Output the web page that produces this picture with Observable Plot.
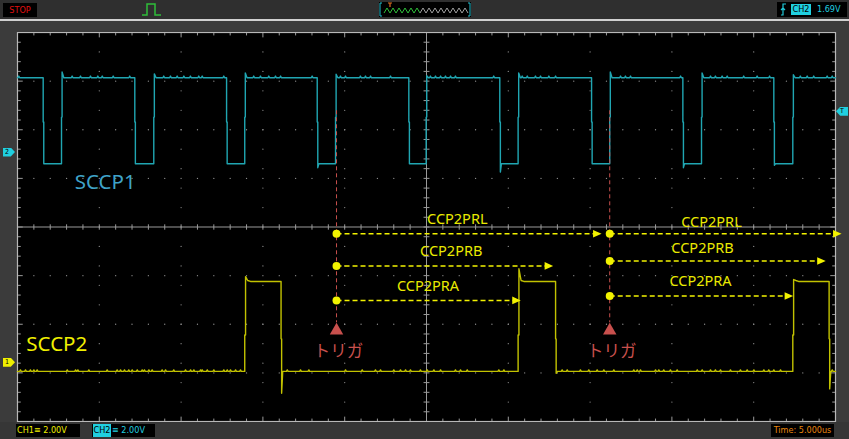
<!DOCTYPE html>
<html><head><meta charset="utf-8">
<script src="https://cdn.jsdelivr.net/npm/d3@7"></script>
<script src="https://cdn.jsdelivr.net/npm/@observablehq/plot@0.6"></script>
<style>
body{margin:0;background:#3a3a3a;}
#wrap{position:relative;width:849px;height:439px;overflow:hidden;background:#3b3b3b;font-family:"DejaVu Sans Condensed","DejaVu Sans",sans-serif;}
.ab{position:absolute;box-sizing:border-box;}
.lbl{font-size:9px;line-height:13px;white-space:nowrap;}
</style></head><body><div id="wrap"></div>
<script>
// ---------- data (time in µs across 10 divisions of 5 µs, level in divisions) ----------
const cyanFall = [1.57, 7.17, 12.78, 18.32, 23.92, 29.48, 35.09, 40.67, 46.23];
const cyanRise = [2.69, 8.33, 13.89, 19.44, 24.98, 30.60, 36.20, 41.81, 47.39];
const cyanHigh = 3.07, cyanLow = 1.30, cyanFallJog = 2.16, cyanRiseJog = 2.26;
const cyanOvershoot = [0.12, 0.08, 0.10, 0.07, 0.04, 0.10, 0.12, 0.10, 0.06];
const cyanUndershoot = [0, 0, 0, 0.08, 0, 0.17, 0, 0.08, 0.03];
const cyanBumps = [0.08,3.34,3.85,4.46,4.91,5.18,5.85,6.86,8.94,9.35,9.76,10.17,10.57,11.08,11.29,12.61,14.44,14.85,15.36,15.77,16.08,18.01,19.74,20.05,20.96,21.27,21.58,22.80,25.24,25.55,25.86,26.16,26.47,26.77,29.11,30.85,31.16,31.66,31.97,32.48,32.89,36.86,37.16,37.47,40.53,41.95,42.36,42.66,43.07,43.38,44.39,45.21,45.97,47.55,47.85,48.27,48.67,49.49,49.80];

const yelRise = [13.89, 30.60, 47.39];
const yelFall = [16.11, 32.89, 49.61];
const yelHigh = -1.12, yelLow = -2.97, yelRiseJog = -2.22, yelFallJog = -2.30;
const yelOvershoot = [0.10, 0.26, 0.04];
const yelSpike = [0.45, 0.04, 0.36];
const yelBumps = [0.18,0.49,0.79,1.00,1.20,3.04,3.55,3.69,4.36,5.48,6.09,6.30,6.54,6.80,7.01,7.32,7.62,7.76,8.03,8.23,8.84,9.05,9.55,10.27,10.58,10.78,11.19,11.29,11.60,12.00,12.61,12.82,13.02,13.33,13.63,16.49,17.30,17.81,20.05,21.07,21.88,22.19,23.00,23.41,23.72,24.02,24.63,25.04,25.45,25.86,26.77,27.08,27.49,29.42,29.73,33.29,33.60,34.41,34.92,35.43,35.84,36.45,37.67,37.88,38.08,39.00,39.20,39.50,39.91,40.32,41.55,41.85,42.36,42.66,42.97,43.58,44.19,44.60,45.01,45.62,45.92,46.23,46.64,49.80];

const triggers = [19.50, 36.20];
const trigLineTop = 2.40, trigLineBottom = -1.96, trigMarkLevel = -2.13, trigTextLevel = -2.56;
const trigText = "トリガ";

const arrowNames = ["CCP2PRL", "CCP2PRB", "CCP2PRA", "CCP2PRL", "CCP2PRB", "CCP2PRA"];
const arrowStart = [19.50, 19.50, 19.50, 36.20, 36.20, 36.20];
const arrowEnd = [35.64, 32.68, 30.70, 50.31, 49.34, 47.35];
const arrowLevel = [-0.14, -0.80, -1.51, -0.14, -0.70, -1.42];
const labelT = [26.88, 26.51, 25.09, 42.42, 41.87, 41.75];
const labelLevel = [0.165, -0.51, -1.23, 0.10, -0.44, -1.11];

const channelNames = ["SCCP1", "SCCP2"];
const channelLabelT = [5.36, 2.40];
const channelLabelLevel = [0.92, -2.41];

const ch2Ground = 1.53, ch1Ground = -2.79, trigLevel = 2.37;

// ---------- build traces ----------
function pushBumps(pts, a, b, level, bumps, amp) {
  for (const t of bumps) if (t > a + 0.05 && t < b - 0.05)
    pts.push({t: t - 0.05, v: level}, {t, v: level + amp}, {t: t + 0.05, v: level});
}
const J = 0.035;
const cyan = [{t: 0, v: cyanHigh}];
let prev = 0;
cyanFall.forEach((f, i) => {
  pushBumps(cyan, prev, f, cyanHigh, cyanBumps, 0.035);
  const r = cyanRise[i];
  cyan.push({t: f, v: cyanHigh}, {t: f, v: cyanFallJog}, {t: f + J, v: cyanFallJog},
            {t: f + J, v: cyanLow - cyanUndershoot[i]}, {t: f + 0.1, v: cyanLow});
  cyan.push({t: r, v: cyanLow}, {t: r, v: cyanRiseJog}, {t: r + J, v: cyanRiseJog},
            {t: r + J, v: cyanHigh + cyanOvershoot[i]}, {t: r + 0.14, v: cyanHigh});
  prev = r + 0.14;
});
pushBumps(cyan, prev, 50, cyanHigh, cyanBumps, 0.035);
cyan.push({t: 50, v: cyanHigh});

const yel = [{t: 0, v: yelLow}];
prev = 0;
yelRise.forEach((r, i) => {
  pushBumps(yel, prev, r, yelLow, yelBumps, 0.03);
  const f = yelFall[i];
  yel.push({t: r, v: yelLow}, {t: r, v: yelRiseJog}, {t: r + 0.05, v: yelRiseJog},
           {t: r + 0.05, v: yelHigh + yelOvershoot[i]}, {t: r + 0.18, v: yelHigh + 0.02}, {t: r + 0.35, v: yelHigh});
  yel.push({t: f, v: yelHigh}, {t: f, v: yelFallJog}, {t: f + J, v: yelFallJog},
           {t: f + J, v: yelLow - yelSpike[i]}, {t: f + 0.1, v: yelLow});
  prev = f + 0.1;
});
pushBumps(yel, prev, 50, yelLow, yelBumps, 0.03);
yel.push({t: 50, v: yelLow});

// ---------- graticule ----------
const rowDots = [];
for (const v of [-3, -2, -1, 1, 2, 3]) for (const t of d3.range(1, 50, 1)) rowDots.push({t, v});
const colDots = [];
for (const t of [5, 10, 15, 20, 30, 35, 40, 45]) for (let k = -9; k <= 9; k++) colDots.push({t, v: k * 0.4});
const tTicks = d3.range(1, 50, 1);
const vTicks = d3.range(-19, 20, 1).map(k => k * 0.2);
const isMajT = t => t % 5 === 0;
const isMajV = v => Math.abs(v - Math.round(v)) < 1e-6;

const headRight = {draw(ctx) { ctx.moveTo(1, 0); ctx.lineTo(-7.5, -3.8); ctx.lineTo(-7.5, 3.8); ctx.closePath(); }};
const arrows = arrowNames.map((name, i) => ({name, a: arrowStart[i], b: arrowEnd[i], v: arrowLevel[i], lt: labelT[i], lv: labelLevel[i]}));

const G = "#9a9a9a";
const plot = Plot.plot({
  width: 849, height: 439,
  marginLeft: 17, marginRight: 14, marginTop: 32, marginBottom: 18,
  x: {domain: [0, 50], axis: null},
  y: {domain: [-4, 4], axis: null},
  style: {background: "transparent", overflow: "visible"},
  marks: [
    Plot.frame({fill: "black", stroke: "none"}),
    Plot.dot(rowDots, {x: "t", y: "v", r: 0.65, fill: "#8c8c8c"}),
    Plot.dot(colDots, {x: "t", y: "v", r: 0.65, fill: "#8c8c8c"}),
    Plot.ruleY([0], {stroke: G}),
    Plot.ruleX([25], {stroke: G}),
    Plot.link(tTicks, {x1: d => d, x2: d => d, y1: -0.055, y2: 0.055, stroke: G}),
    Plot.link(vTicks, {x1: 24.82, x2: 25.18, y1: d => d, y2: d => d, stroke: G}),
    Plot.link(tTicks, {x1: d => d, x2: d => d, y1: 4, y2: d => 4 - (isMajT(d) ? 0.1 : 0.06), stroke: G}),
    Plot.link(tTicks, {x1: d => d, x2: d => d, y1: -4, y2: d => -4 + (isMajT(d) ? 0.1 : 0.06), stroke: G}),
    Plot.link(vTicks, {x1: 0, x2: d => isMajV(d) ? 0.32 : 0.2, y1: d => d, y2: d => d, stroke: G}),
    Plot.link(vTicks, {x1: 50, x2: d => 50 - (isMajV(d) ? 0.32 : 0.2), y1: d => d, y2: d => d, stroke: G}),
    Plot.frame({stroke: "#b8b8b8", strokeWidth: 1.2}),
    Plot.line(cyan, {x: "t", y: "v", stroke: "#20a6b2", strokeWidth: 1.4}),
    Plot.line(yel, {x: "t", y: "v", stroke: "#c2c200", strokeWidth: 1.4}),
    Plot.link(triggers, {x1: d => d, x2: d => d, y1: trigLineTop, y2: trigLineBottom, stroke: "#c8504d", strokeDasharray: "4,3", strokeWidth: 1}),
    Plot.dot(triggers, {x: d => d, y: trigMarkLevel, symbol: "triangle", r: 5, fill: "#c8504d"}),
    Plot.text(triggers, {x: d => d + 0.12, y: trigTextLevel, text: () => trigText, fill: "#c8504d", fontSize: 16.5, fontFamily: "Noto Sans CJK JP"}),
    Plot.link(arrows, {x1: "a", x2: d => d.b - 0.4, y1: "v", y2: "v", stroke: "#f2f200", strokeWidth: 1.5, strokeDasharray: "5,3"}),
    Plot.dot(arrows, {x: "a", y: "v", r: 4, fill: "#f2f200"}),
    Plot.dot(arrows, {x: "b", y: "v", symbol: headRight, fill: "#f2f200"}),
    Plot.text(arrows, {x: "lt", y: "lv", text: "name", fill: "#eaea00", fontSize: 14.5, fontFamily: "Noto Sans"}),
    Plot.text(channelNames, {x: (d, i) => channelLabelT[i], y: (d, i) => channelLabelLevel[i], text: d => d,
      fill: (d, i) => i === 0 ? "#3fa3c8" : "#f0f000", fontSize: 20.5, fontFamily: "Noto Sans"})
  ]
});
plot.style.position = "absolute"; plot.style.left = "0"; plot.style.top = "0";
const wrap = document.getElementById("wrap");
wrap.appendChild(plot);

const sy = plot.scale("y");
const fy = sy.apply ? (v => sy.apply(v)) : d3.scaleLinear(sy.domain, sy.range);

// ---------- instrument chrome ----------
const zig = d3.range(0, 29).map(k => `${384 + k * 3 - 379},${k % 2 ? 6 : 11}`);
const zigG = zig.slice(0, 13).join(" "), zigR = zig.slice(12).join(" ");
const html = `
<div class="ab" style="left:0;top:0;width:849px;height:19px;background:#2f2f2f"></div>
<div class="ab" style="left:0;top:19px;width:849px;height:2px;background:#d0d0d0"></div>
<div class="ab" style="left:0;top:21px;width:849px;height:11px;background:#3b3b3b"></div>
<div class="ab lbl" style="left:3px;top:3px;width:34px;height:14px;background:#000;color:#e01010;text-align:center;line-height:14px">STOP</div>
<svg class="ab" style="left:140px;top:2px" width="24" height="15"><path d="M2 13 H7 V2 H15 V13 H21" fill="none" stroke="#2fbf3a" stroke-width="1.5"/></svg>
<svg class="ab" style="left:379px;top:2px" width="92" height="15">
 <rect width="92" height="15" fill="#000"/>
 <path d="M3 1 H1 V14 H3 M89 1 H91 V14 H89" fill="none" stroke="#20c0d0"/>
 <polyline points="${zigG}" fill="none" stroke="#2fbf3a" stroke-width="1"/>
 <polyline points="${zigR}" fill="none" stroke="#a0a0a0" stroke-width="1"/>
 <path d="M9 1 H13 M11 1 V5" stroke="#e07020" stroke-width="1.2"/>
</svg>
<div class="ab" style="left:777px;top:2px;width:70px;height:15px;background:#000"></div>
<svg class="ab" style="left:779px;top:3px" width="10" height="13"><path d="M2 12 H4 V1 H7 M4 5 L2 7 M4 5 L6 7" fill="none" stroke="#20c8d8" stroke-width="1.2"/></svg>
<div class="ab lbl" style="left:791px;top:4px;width:20px;height:11px;background:#20d0e0;color:#000;text-align:center;line-height:11px">CH2</div>
<div class="ab lbl" style="left:817px;top:3px;color:#20d0e0">1.69V</div>

<div class="ab lbl" style="left:3px;top:${fy(ch2Ground) - 4.5}px;width:12px;height:9px;background:#20d0e0;color:#000;font-size:7px;line-height:9px;padding-left:2px;clip-path:polygon(0 0,65% 0,100% 50%,65% 100%,0 100%)">2</div>
<div class="ab lbl" style="left:3px;top:${fy(ch1Ground) - 4.5}px;width:12px;height:9px;background:#f0f000;color:#000;font-size:7px;line-height:9px;padding-left:2px;clip-path:polygon(0 0,65% 0,100% 50%,65% 100%,0 100%)">1</div>
<div class="ab lbl" style="left:836px;top:${fy(trigLevel) - 4.5}px;width:12px;height:9px;background:#20d0e0;color:#000;font-size:7px;line-height:9px;padding-left:4px;clip-path:polygon(0 50%,35% 0,100% 0,100% 100%,35% 100%)">T</div>

<div class="ab" style="left:0;top:422px;width:849px;height:17px;background:#363636"></div>
<div class="ab lbl" style="left:16px;top:424px;width:64px;height:13px;background:#000;color:#f0f000;padding-left:1px">CH1≡ 2.00V</div>
<div class="ab" style="left:92px;top:424px;width:63px;height:13px;background:#000"></div>
<div class="ab lbl" style="left:93px;top:424px;width:18px;height:13px;background:#20d0e0;color:#000;text-align:center">CH2</div>
<div class="ab lbl" style="left:112px;top:424px;color:#20d0e0">≡ 2.00V</div>
<div class="ab lbl" style="left:771px;top:424px;width:63px;height:13px;background:#000;color:#e8870e;text-align:center">Time: 5.000us</div>
`;
wrap.insertAdjacentHTML("beforeend", html);
</script>
</body></html>
